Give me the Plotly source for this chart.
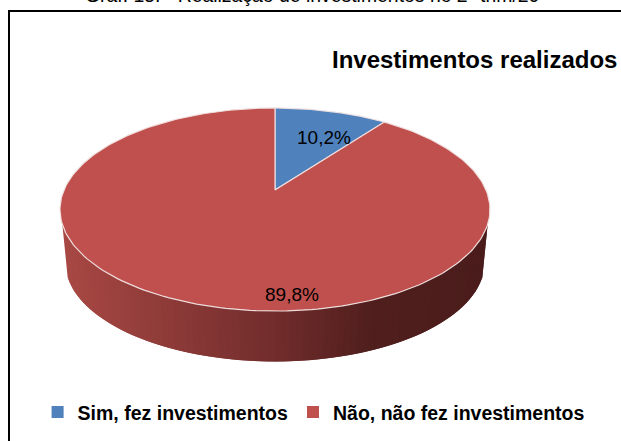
import numpy as np
import plotly.graph_objects as go

categories = ["Sim, fez investimentos", "Não, não fez investimentos"]
values = [10.2, 89.8]
value_labels = ["10,2%", "89,8%"]
colors = ["#4F81BD", "#C0504D"]
title = "Investimentos realizados"
caption = "Graf. 15: - Realização de investimentos no 2º trim/20"

FONT = "Liberation Sans, Arial, sans-serif"
W, H = 621, 441
CX, CY = 275, 190      # apex of the pie in the picture
AX, BY, P = 211, 97.8, 0.192  # perspective projection of the disc
DEPTH = 53
SIDE_SCALE = 0.975


def project(phi, depth=0.0, scale=1.0):
    """phi: clockwise angle from 12 o'clock, radians."""
    u, v = np.sin(phi), np.cos(phi)
    d = 1 + P * v
    return CX + scale * AX * u / d, CY - scale * BY * v / d + 19.5 * (1 - scale) + depth


def lerp_color(t):
    stops = [(0.0, (168, 72, 68)), (0.5, (112, 44, 43)), (0.72, (80, 31, 29)), (1.0, (74, 28, 27))]
    for (t0, c0), (t1, c1) in zip(stops, stops[1:]):
        if t <= t1:
            f = (t - t0) / (t1 - t0)
            return "rgb(%d,%d,%d)" % tuple(round(a + (b - a) * f) for a, b in zip(c0, c1))
    return "rgb(74,28,27)"


fig = go.Figure()

# Side wall, as many narrow shaded strips, left to right
n_strips = 90
start, end = np.radians(250.7), np.radians(109.3)
edges = np.linspace(start, end, n_strips + 1)
x_left = project(start)[0]
x_right = project(end)[0]
for i in range(n_strips):
    ph_wide = np.linspace(edges[i], edges[min(i + 2, n_strips)], 6)
    xt, yt = project(ph_wide)
    xb, yb = project(ph_wide, DEPTH, SIDE_SCALE)
    xs = np.r_[xt, xb[::-1]]
    ys = np.r_[yt, yb[::-1]]
    t = (project(edges[i])[0] - x_left) / (x_right - x_left)
    fig.add_trace(go.Scatter(
        x=xs, y=ys, mode="lines", fill="toself", line=dict(width=0),
        fillcolor=lerp_color(t), hoverinfo="skip", showlegend=False))

# Top disc: slices run clockwise from 12 o'clock, angles come from the values
fractions = np.array(values) / sum(values)
bounds = np.r_[0, np.cumsum(fractions)] * 2 * np.pi
for i, (cat, col) in enumerate(zip(categories, colors)):
    ph = np.linspace(bounds[i], bounds[i + 1], 240)
    x, y = project(ph)
    fig.add_trace(go.Scatter(
        x=np.r_[CX, x, CX], y=np.r_[CY, y, CY], mode="lines", fill="toself",
        line=dict(color="rgba(240,225,225,0.95)", width=1.2), fillcolor=col,
        name=cat, hoverinfo="name", showlegend=False))

# Legend entries
for cat, col in zip(categories, colors):
    fig.add_trace(go.Scatter(
        x=[None], y=[None], mode="markers", name=cat,
        marker=dict(symbol="square", size=12, color=col)))

fig.update_layout(
    width=W, height=H, autosize=False,
    margin=dict(l=0, r=0, t=0, b=0),
    paper_bgcolor="white", plot_bgcolor="white",
    xaxis=dict(range=[0, W], visible=False, fixedrange=True),
    yaxis=dict(range=[H, 0], visible=False, fixedrange=True),
    legend=dict(orientation="h", x=0.505, xanchor="center", y=0.021, yanchor="bottom",
                font=dict(family=FONT, size=19.5, color="black", weight="bold"),
                bgcolor="rgba(0,0,0,0)", itemwidth=30, tracegroupgap=0),
    shapes=[dict(type="path", path=f"M 9 {H} L 9 11 L {W} 11",
                 line=dict(color="black", width=2), xref="x", yref="y")],
    annotations=[
        dict(x=618.5, y=59, xref="x", yref="y", text=title, showarrow=False, xanchor="right",
             yanchor="middle", font=dict(family=FONT, size=24, color="black", weight="bold")),
        dict(x=324, y=137, xref="x", yref="y", text=value_labels[0], showarrow=False,
             font=dict(family=FONT, size=19, color="black")),
        dict(x=291.5, y=294, xref="x", yref="y", text=value_labels[1], showarrow=False,
             font=dict(family=FONT, size=19, color="black")),
        dict(x=312.5, y=8, xref="x", yref="y", text=caption, showarrow=False, yanchor="bottom",
             font=dict(family=FONT, size=19.4, color="black")),
    ],
)
fig.write_html("out.html", config=dict(displayModeBar=False),
               post_script="document.body.style.margin='0';")
